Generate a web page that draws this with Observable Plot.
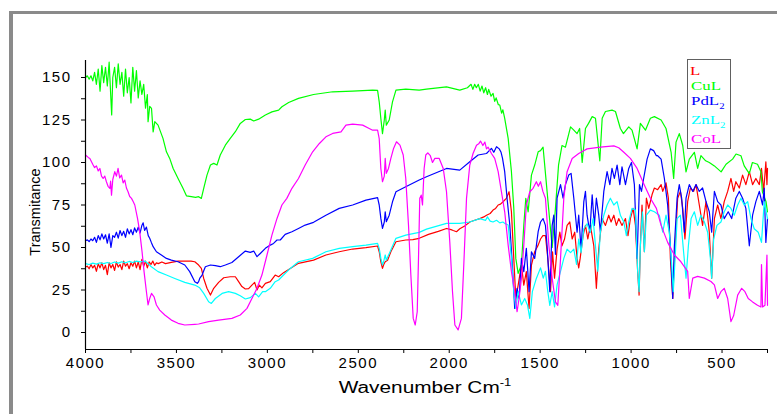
<!DOCTYPE html>
<html>
<head>
<meta charset="utf-8">
<script src="https://cdn.jsdelivr.net/npm/d3@7"></script>
<script src="https://cdn.jsdelivr.net/npm/@observablehq/plot@0.6"></script>
<style>
  body { margin: 0; background: #fff; }
  #wrap { position: relative; width: 777px; height: 414px; overflow: hidden; background: #fff; font-family: "Liberation Sans", Arial, sans-serif; }
  #frame { position: absolute; left: 9px; top: 11px; width: 900px; height: 600px; border-left: 4px solid #8a8a8a; border-top: 3px solid #8a8a8a; }
  #chart { position: absolute; left: 0; top: 0; }
  #ylabel { position: absolute; left: 35px; top: 212px; transform: translate(-50%, -50%) rotate(-90deg); font-size: 14.5px; white-space: nowrap; color: #000; }
  #xlabel { position: absolute; left: 0; width: 850px; top: 380px; text-align: center; font-size: 16px; line-height: 16px; transform: scaleX(1.3); transform-origin: 425px 50%; color: #000; white-space: nowrap; }
  #xlabel sup { font-size: 10px; vertical-align: 7px; line-height: 0; }
  #legend { position: absolute; left: 687px; top: 59px; width: 42px; height: 88px; border: 1.5px solid #606060; background: #fff; }
  .lg { position: absolute; font-family: "Liberation Serif", "Times New Roman", serif; font-size: 12.5px; line-height: 12.5px; transform: scaleX(1.35); transform-origin: 0 50%; white-space: nowrap; }
  .lg sub { font-size: 8px; vertical-align: -4px; line-height: 0; }
</style>
</head>
<body>
<div id="wrap">
  <div id="frame"></div>
  <div id="chart"></div>
  <div id="ylabel">Transmitance</div>
  <div id="xlabel">Wavenumber Cm<sup>-1</sup></div>
  <div id="legend"></div>
</div>
<script>
// ---- data: [wavenumber (cm^-1), transmittance] ----
const dataL = [[4000,38.5],[3990,39],[3980,37.5],[3970,40],[3960,38],[3950,39.5],[3940,36],[3930,40.5],[3920,38],[3910,41],[3900,37],[3890,39.5],[3880,34],[3870,41],[3860,38],[3850,40],[3840,36.5],[3830,41.5],[3820,38.5],[3810,40],[3800,37],[3790,42],[3780,39],[3770,40.5],[3760,37.5],[3750,41],[3740,39],[3730,42],[3720,38],[3710,41.5],[3700,37],[3690,43],[3680,39],[3670,42],[3660,38],[3650,41.5],[3640,40],[3630,42],[3620,39.5],[3610,41],[3600,40.5],[3580,41.5],[3560,40.5],[3528,41.2],[3491,42],[3454,42],[3420,42],[3399,41.6],[3378,39.7],[3363,37.7],[3350,31.8],[3332,26],[3313,22],[3295,26],[3268,29.5],[3240,32.2],[3204,32.8],[3176,32.8],[3158,29.9],[3140,27],[3121,25.6],[3103,25.8],[3085,27.9],[3070,29.5],[3057,25],[3044,27.9],[3030,26.3],[3011,28.9],[2984,29.9],[2957,33.8],[2938,32.8],[2911,35.2],[2874,37.7],[2829,40.7],[2746,42.6],[2678,45.6],[2605,47.5],[2531,49.1],[2458,49.9],[2394,50.9],[2385,47.5],[2376,41.6],[2367,37.7],[2360,40],[2352,41.6],[2339,42.5],[2321,47.5],[2293,53.4],[2239,54.4],[2200,54.6],[2165,55.4],[2114,57.7],[2060,59.5],[2015,61.2],[1990,60.5],[1978,60],[1960,59.3],[1942,61],[1910,63],[1887,65],[1860,66],[1832,67],[1810,68],[1795,69],[1775,70],[1759,72],[1745,73],[1731,75],[1718,75.5],[1704,76.9],[1686,78.9],[1671,82.8],[1658,71],[1645,43.6],[1634,20],[1621,27.9],[1603,39.7],[1590,27.9],[1576,35.8],[1561,14.2],[1548,39.7],[1530,47.5],[1511,51.4],[1498,55],[1485,57],[1471,57],[1458,43.6],[1443,24],[1432,47.5],[1421,32],[1407,49],[1392,59],[1380,51],[1366,55],[1352,63],[1337,65],[1324,55],[1310,59],[1297,43.6],[1288,38],[1280,43.6],[1264,57],[1251,63],[1238,55],[1224,63],[1205,51],[1191,26],[1178,49],[1160,67],[1141,63],[1123,69],[1110,65],[1095,69],[1081,63],[1068,67],[1050,63],[1031,67],[1017,57],[1004,67],[989,73],[976,63],[964,36],[956,22],[949,51],[940,75],[927,47.5],[916,79],[903,73],[885,81],[872,85],[854,84],[835,87],[826,83],[808,88],[795,79],[784,43.6],[771,20],[758,51],[744,79],[729,83],[716,73],[704,55],[689,77],[674,85],[656,83],[643,87],[625,75],[607,63],[588,77],[570,59],[557,32],[542,67],[524,75],[506,67],[488,77],[469,83],[451,90.6],[436,83],[424,88.7],[405,85],[387,92.6],[369,87],[350,94.6],[332,87],[314,90.6],[295,87],[283,96.5],[271,83],[259,100.4],[253,87],[250,96.5]];

const dataCuL = [[4000,150],[3990,151],[3980,149],[3970,151],[3960,148],[3950,153],[3940,146],[3930,155],[3920,142],[3910,157],[3900,147],[3890,156],[3880,145],[3870,159],[3862,141],[3856,128],[3850,150],[3840,156],[3830,144],[3820,158],[3810,146],[3800,153],[3790,139],[3780,155],[3770,141],[3760,150],[3750,135],[3740,156],[3730,142],[3720,154],[3710,138],[3700,148],[3690,140],[3680,146],[3670,132],[3660,140],[3656,124],[3647,133],[3637,131.8],[3628,118],[3619,124],[3601,122],[3574,114.2],[3555,106.3],[3537,102.4],[3518,96.5],[3491,90.6],[3464,84.8],[3445,80.4],[3418,79.9],[3395,79.5],[3378,79.9],[3363,78.9],[3350,84.8],[3332,92.6],[3313,98.5],[3295,99.5],[3277,98.5],[3259,104.4],[3231,110.2],[3204,114.2],[3176,118.1],[3149,123],[3121,125.3],[3094,125.5],[3075,124.4],[3048,125.5],[3011,127.9],[2975,129.8],[2938,130.8],[2920,132.8],[2883,135.3],[2829,137.7],[2746,140],[2641,141.6],[2531,142],[2421,142.6],[2394,142.4],[2385,135.7],[2376,125.9],[2367,117],[2357,125],[2352,130.8],[2346,122],[2330,125],[2312,135.7],[2293,142.6],[2239,143.2],[2165,142.6],[2125,143.2],[2015,144.5],[1942,142.6],[1900,144],[1880,146],[1870,143],[1860,146],[1851,144],[1840,146],[1830,142],[1820,145],[1810,141],[1800,144],[1790,140],[1783,143],[1770,139],[1759,140.6],[1750,136],[1742,138],[1730,134],[1722,133.8],[1712,129],[1705,131],[1695,126],[1676,114.2],[1658,94.6],[1645,73],[1634,43.6],[1621,34.8],[1603,39.7],[1590,63.2],[1579,78.9],[1566,71],[1548,92.6],[1530,98.5],[1511,106.3],[1498,107],[1484,109],[1462,83],[1434,50],[1416,73],[1399,98.4],[1380,110],[1361,109],[1333,121],[1315,119],[1297,117],[1283,120],[1269,100],[1251,120],[1234,123],[1214,127],[1196,126],[1172,101],[1159,126],[1141,130],[1105,130.8],[1086,130],[1059,120],[1042,117],[1013,121],[995,119],[967,108],[949,123],[921,119],[894,126],[872,127],[835,125],[808,120],[780,106],[766,90.6],[753,112],[735,117],[716,110],[698,94.5],[680,102],[652,106],[634,96.5],[616,104],[590,101],[570,100],[542,98],[505,94.5],[478,99],[442,102],[423,105],[396,104],[378,98],[350,93.5],[333,100],[305,99],[286,94.5],[278,82.7],[258,77],[250,71]];

const dataPdL2 = [[4000,54],[3990,54.5],[3980,53.5],[3970,55],[3960,54],[3950,56],[3940,53],[3930,57],[3920,54.5],[3910,58],[3900,55],[3890,57.5],[3880,52.5],[3870,58],[3860,50],[3850,57],[3840,56],[3830,59],[3820,55.5],[3810,60],[3800,57],[3790,59.5],[3780,56],[3770,61],[3760,58],[3750,60.5],[3740,57.5],[3730,61.5],[3720,59],[3710,62],[3700,58.5],[3690,63],[3683,64.5],[3675,60],[3665,62],[3655,57],[3647,55.4],[3638,53],[3628,50.5],[3610,47.5],[3583,45.6],[3555,43.6],[3528,42.6],[3491,41.6],[3454,39.7],[3427,35.8],[3399,29.9],[3385,28.9],[3378,29.9],[3372,31.8],[3359,33.8],[3341,38.7],[3313,39.7],[3286,39.3],[3259,38.7],[3231,39.7],[3195,41.2],[3158,44.6],[3121,47.9],[3094,47.1],[3075,47.9],[3057,44.6],[3039,46.5],[3011,49.5],[2984,51.4],[2966,52.4],[2947,54.4],[2929,54.4],[2902,57.7],[2865,59.3],[2829,61.2],[2792,63.2],[2746,64.8],[2678,69],[2605,73],[2531,75],[2458,77.9],[2394,79.3],[2385,75],[2376,67.1],[2367,61.2],[2357,65],[2352,71],[2346,65.2],[2330,69],[2312,76.9],[2293,82.8],[2239,85.7],[2165,89.7],[2125,91.6],[2015,96.5],[1942,95.5],[1887,100.4],[1841,104.4],[1795,105.3],[1780,107],[1768,108.3],[1755,106],[1740,109.3],[1725,108],[1715,106],[1707,102.4],[1695,94.6],[1682,78.9],[1667,63.2],[1653,39.7],[1640,14.2],[1627,26],[1616,20],[1603,43.6],[1590,35.8],[1576,49.5],[1561,24],[1548,47.5],[1530,43.6],[1511,59.3],[1498,65],[1484,67],[1471,63],[1462,51],[1447,24],[1434,63],[1425,69],[1416,46],[1407,79],[1388,87],[1374,79],[1361,87],[1343,92.6],[1330,93.6],[1315,79],[1297,59],[1288,69],[1275,49],[1260,77],[1251,83],[1242,69],[1227,59],[1214,81],[1202,63],[1191,79],[1178,69],[1169,59],[1150,83],[1132,94.6],[1117,87],[1105,96.5],[1092,90.6],[1077,98.5],[1062,87],[1050,97.5],[1031,87],[1013,96.5],[998,100],[982,87],[967,43.6],[954,87],[943,83],[931,90.6],[912,102],[894,108],[876,107],[861,104],[854,104],[835,102],[817,90.6],[799,75],[784,51],[771,20],[762,51],[747,79],[735,87],[722,79],[707,59],[698,79],[680,87],[661,83],[643,87],[625,83],[607,85],[588,77],[570,71],[557,59],[542,83],[524,77],[506,75],[488,67],[466,71],[447,67],[424,79],[405,83],[387,79],[369,73],[350,51],[332,69],[314,77],[295,83],[277,75],[268,85],[259,53],[250,67]];

const dataZnL2 = [[4000,40.5],[3980,40],[3960,40.8],[3940,40.2],[3920,41],[3900,40.5],[3880,41.2],[3860,40.6],[3840,41.5],[3820,40.8],[3800,41.6],[3780,41],[3760,41.8],[3740,41.2],[3720,42],[3700,41.5],[3674,42],[3655,40.5],[3638,38.7],[3601,35.8],[3555,33.8],[3509,31.8],[3454,29.5],[3399,27.9],[3372,26.3],[3350,23],[3323,18.1],[3308,17.1],[3286,20],[3249,23],[3213,24],[3176,23],[3149,21.6],[3121,19.7],[3094,20.5],[3066,23],[3048,21],[3026,24],[3011,24],[2984,26],[2957,29.9],[2938,30.9],[2911,33.8],[2874,37.7],[2829,41.6],[2751,43.6],[2678,47.5],[2605,49.5],[2531,50.5],[2458,51.4],[2394,52.4],[2385,49.5],[2376,43.6],[2367,39.7],[2360,42],[2352,45.6],[2346,42.6],[2321,48.5],[2293,55.4],[2239,57.3],[2165,58.9],[2125,60.8],[2015,64.2],[1942,64.2],[1887,65],[1832,67],[1800,66],[1790,68],[1775,65.5],[1759,65],[1740,66],[1722,64.5],[1705,65],[1695,64.2],[1676,63.2],[1658,43.6],[1645,24],[1634,14.2],[1621,24],[1603,16.2],[1585,20],[1570,16.2],[1557,8.3],[1543,24],[1521,31.8],[1498,38],[1483,32],[1471,36],[1458,24],[1447,16],[1434,24],[1421,15],[1407,28],[1388,36],[1370,43.6],[1352,49],[1333,47],[1315,49],[1300,40],[1288,55],[1275,47],[1260,61],[1242,64],[1224,59],[1209,67],[1196,51],[1183,36],[1169,59],[1150,69],[1132,75],[1114,79],[1095,75],[1077,77],[1059,69],[1040,65],[1026,57],[1013,65],[995,73],[976,72],[964,36],[956,24],[949,51],[938,71],[927,47.5],[916,69],[894,72],[872,71],[845,69],[826,59],[808,69],[790,59],[777,40],[768,24],[758,43.6],[747,67],[729,69],[711,47],[698,32],[685,51],[670,67],[652,71],[634,63],[616,69],[597,65],[579,59],[564,43.6],[557,32],[546,55],[528,63],[506,65],[488,71],[469,75],[451,73],[433,69],[414,75],[396,79],[378,75],[359,77],[341,67],[323,61],[301,59],[283,53],[268,77],[250,67]];

const dataCoL = [[4000,104.4],[3985,103],[3976,102.4],[3965,100],[3958,98.5],[3950,97],[3940,98],[3930,95],[3921,96.5],[3912,92],[3903,90.6],[3894,92],[3885,88.7],[3876,86],[3866,84.8],[3862,89],[3857,80.8],[3850,90],[3839,94.6],[3830,92],[3821,96.5],[3812,91],[3802,92.6],[3793,88],[3784,89.7],[3775,85],[3766,82.8],[3757,80],[3747,78.9],[3738,77],[3729,75],[3714,67.1],[3702,59.3],[3689,47.5],[3678,35.8],[3665,24],[3656,16.2],[3647,20],[3637,23],[3623,21],[3610,16.2],[3592,13.2],[3564,10.3],[3528,7.3],[3491,5.4],[3454,4.4],[3399,4.8],[3378,5],[3323,6.4],[3268,7.3],[3195,8.3],[3149,10.3],[3112,14.2],[3085,20],[3057,26],[3030,33.8],[3002,45.6],[2975,57.3],[2947,67.1],[2920,75],[2893,78.9],[2865,84.8],[2829,90.6],[2792,98.5],[2751,106.3],[2714,111.2],[2678,115.1],[2641,117.1],[2595,118],[2568,122],[2531,122.6],[2476,122],[2440,120],[2421,119],[2394,119],[2385,114],[2376,96.5],[2367,88.7],[2357,92],[2352,102.4],[2346,93.6],[2334,96.5],[2321,102.4],[2306,108.3],[2290,112.2],[2271,110.2],[2253,104.4],[2239,90.6],[2224,63.2],[2211,33.8],[2198,8.3],[2187,4.4],[2176,12.2],[2169,43.6],[2162,78.9],[2154,80.8],[2147,75],[2138,96.5],[2129,104.4],[2118,105.7],[2104,104],[2092,100],[2079,102.4],[2055,102.4],[2033,96.5],[2015,82.8],[1997,53.4],[1982,24],[1969,4.4],[1951,1.5],[1933,8.3],[1920,39.7],[1905,78.9],[1887,98.5],[1869,105.3],[1850,110.2],[1838,111],[1828,112.6],[1815,110],[1804,112],[1795,108],[1786,109],[1768,105.3],[1750,102.4],[1731,94.6],[1713,82.8],[1695,71],[1676,51.4],[1658,35.8],[1640,24],[1627,12.2],[1616,20],[1603,31.8],[1590,51.4],[1576,75],[1557,82.8],[1539,84.8],[1521,88.7],[1510,86],[1498,88.7],[1485,83],[1471,79],[1452,51],[1434,32],[1416,18],[1403,16],[1388,43.6],[1370,79],[1352,94.6],[1324,102.4],[1288,105.3],[1242,108],[1169,109],[1095,109.8],[1068,108.7],[1040,106],[1004,102.4],[967,96.5],[931,87.7],[894,79],[861,73],[835,63],[799,53],[762,45.6],[726,41.6],[689,36],[680,20],[661,32],[634,33],[597,32],[561,30],[542,28],[524,20],[506,24],[488,26],[469,20],[451,6.4],[436,10],[414,22],[392,26],[374,24],[356,20],[332,18],[305,16],[286,15],[283,40],[277,15],[264,16],[253,45.6],[250,16]];

const seriesNames = ["L", "CuL", "PdL2", "ZnL2", "CoL"];
const seriesColors = ["#ff0000", "#00ff00", "#0000ff", "#00ffff", "#ff00ff"];
const seriesData = [dataL, dataCuL, dataPdL2, dataZnL2, dataCoL];
const legendLabels = [["L", ""], ["CuL", ""], ["PdL", "2"], ["ZnL", "2"], ["CoL", ""]];
const legendBaselines = [75, 90, 105, 124.5, 143];

const xTicks = d3.range(4000, 249, -250);
const yTicks = d3.range(0, 151, 12.5);

const chart = Plot.plot({
  width: 777,
  height: 414,
  marginLeft: 85,
  marginRight: 10,
  marginTop: 60,
  marginBottom: 65,
  style: { fontFamily: "'Liberation Sans', Arial, sans-serif", fontSize: "15px", letterSpacing: "1.5px", color: "#000", background: "transparent", overflow: "visible" },
  x: { domain: [4000, 250], ticks: xTicks, tickFormat: d => d % 500 === 0 ? String(d) : "", tickSize: 4, tickPadding: 4, label: null },
  y: { domain: [-10, 160], ticks: yTicks, tickFormat: d => d % 25 === 0 ? String(d) : "", tickSize: 4, tickPadding: 10, label: null },
  marks: [
    ...seriesData.map((data, i) => Plot.line(data, { x: d => d[0], y: d => d[1], stroke: seriesColors[i], strokeWidth: 1.2 })),
    Plot.ruleX([4000], { y1: -10, y2: 160, stroke: "#000", strokeWidth: 1.2 }),
    Plot.ruleY([-10], { x1: 4000, x2: 250, stroke: "#000", strokeWidth: 1.2 })
  ]
});
document.getElementById("chart").appendChild(chart);

const legend = document.getElementById("legend");
const wrap = document.getElementById("wrap");
legendLabels.forEach(([main, sub], i) => {
  const el = document.createElement("div");
  el.className = "lg";
  el.style.left = (i === 0 ? 690 : 691) + "px";
  el.style.top = (legendBaselines[i] - 10.5) + "px";
  el.style.color = seriesColors[i];
  el.textContent = main;
  if (sub) {
    const s = document.createElement("sub");
    s.textContent = sub;
    el.appendChild(s);
  }
  wrap.appendChild(el);
});
</script>
</body>
</html>
